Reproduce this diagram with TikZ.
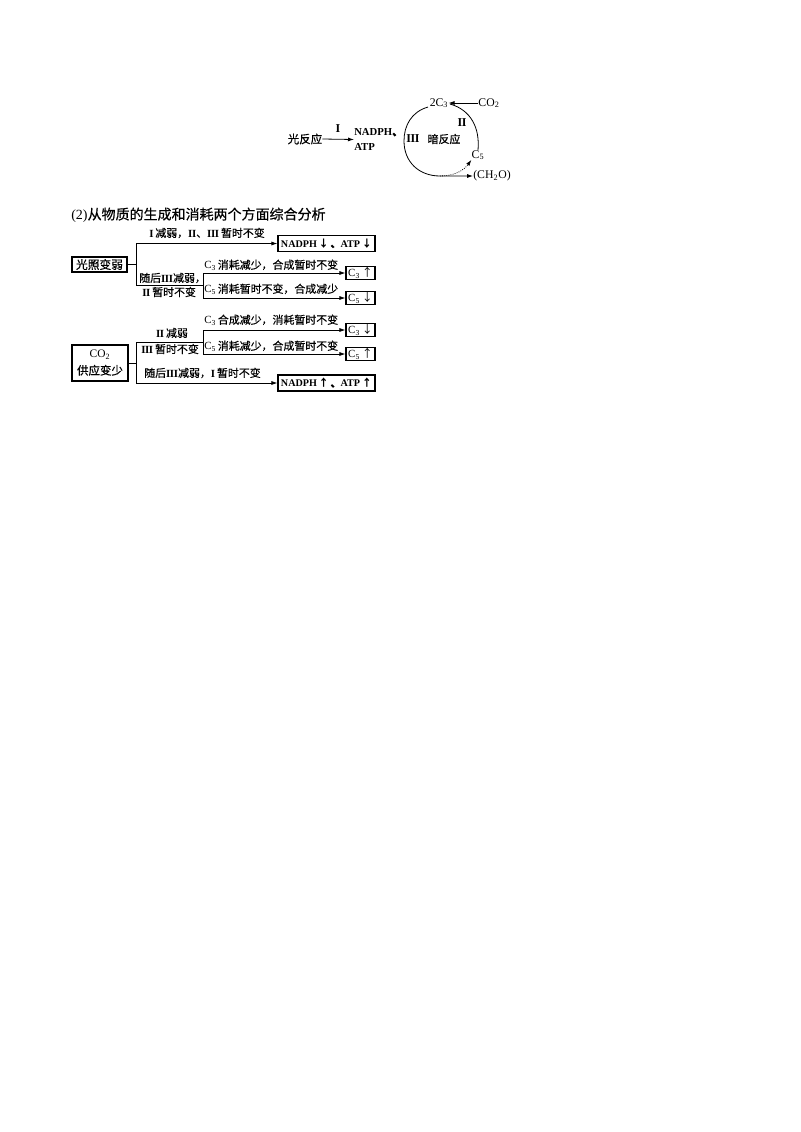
\documentclass[tikz,border=0pt]{standalone}
\usepackage{fontspec}
\setmainfont{Liberation Serif}
\newfontfamily\cjk[FakeBold=0.5]{Noto Sans CJK SC}
\newfontfamily\cjkarrow{Noto Sans CJK SC}
\usetikzlibrary{arrows.meta}
\newcommand{\zh}[1]{{\cjk #1}}
\newcommand{\ar}[1]{{\cjkarrow #1}}
\newcommand{\RI}{{\bfseries I}}
\newcommand{\RII}{{\bfseries I\kern-0.3pt I}}
\newcommand{\RIII}{{\bfseries I\kern-0.3pt I\kern-0.3pt I}}
\begin{document}
\begin{tikzpicture}[x=0.75pt,y=-0.75pt,
  lab/.style={inner sep=0pt, font=\fontsize{8.2}{9.5}\selectfont},
  toplab/.style={lab, font=\fontsize{8.8}{10}\selectfont},
  bx/.style={draw, line width=0.8pt, inner sep=0pt, font=\fontsize{8.2}{9.5}\selectfont},
  cbox/.style={bx, minimum width=21.75pt, minimum height=10pt},
  nbox/.style={bx, minimum width=72.75pt, minimum height=11.5pt, font=\fontsize{7.6}{9.5}\selectfont\bfseries},
  ln/.style={line width=0.6pt},
  arr/.style={ln, -{Latex[length=4.5pt,width=3pt]}},
]
\useasboundingbox (0,0) rectangle (800,1132);

% ---------- top: light and dark reactions ----------
\node[lab, font=\fontsize{8.6}{10}\selectfont] (gf) at (305,139) {\zh{光反应}};
\node[lab, anchor=west, align=left, font=\fontsize{8}{11.25}\selectfont\bfseries] (na) at (354,139.5) {NADPH\zh{、}\\ATP};
\draw[arr] (gf.east) -- (na.west);
\node[lab, font=\fontsize{9}{10}\selectfont] (r1) at (338,129) {\RI};

\node[toplab] (c2) at (439,103) {2C\textsubscript{3}};
\node[toplab] (co2) at (489,103) {CO\textsubscript{2}};
\draw[arr] (co2.west) -- (c2.east);
\node[toplab] (c5) at (478,155) {C\textsubscript{5}};
\node[toplab] (ch) at (492,176) {(CH\textsubscript{2}O)};
\node[lab, font=\fontsize{9}{10}\selectfont] (r2) at (462,123) {\RII};
\node[lab, font=\fontsize{9}{10}\selectfont] (r3) at (413,139) {\RIII};
\node[lab] (an) at (444,139) {\zh{暗反应}};

\coordinate (aL) at (428,107);
\coordinate (aB) at (440,176);
\coordinate (aR) at (450,104);
\draw[arr] (aL) .. controls (411,112) and (404,126) .. (404,141)
  .. controls (404,162) and (419,176) .. (aB) -- (aB -| ch.west);
\draw[arr, densely dotted] (aB) .. controls (455,176) and (464,170) .. (c5.south west);
\draw[ln] (c5.north) .. controls (480,128) and (471,110) .. (aR);

% ---------- heading ----------
\node[lab, anchor=west, font=\fontsize{10.5}{12}\selectfont] (h) at (71,215) {(2)\zh{从物质的生成和消耗两个方面综合分析}};

% ---------- flowchart 1: light weakens ----------
\node[bx, minimum width=41.25pt, minimum height=11.25pt, font=\fontsize{8.8}{10}\selectfont] (b1) at (99.5,264.5) {\zh{光照变弱}};
\coordinate (p1t) at (136,243.5);
\coordinate (p1b) at (136,285);
\coordinate (q1) at (203,285);
\coordinate (q1a) at (203,273);
\coordinate (q1b) at (203,298);
\node[nbox] (n1) at (326.5,243.5) {NADPH\,\ar{↓}\,\zh{、}ATP\,\ar{↓}};
\node[cbox] (c3u) at (360.5,273) {C\textsubscript{3}\,\ar{↑}};
\node[cbox] (c5d) at (360.5,298) {C\textsubscript{5}\,\ar{↓}};
\draw[ln] (b1.east) -- (b1.east -| p1t);
\draw[ln] (p1t) -- (p1b) -- (q1);
\draw[ln] (q1a) -- (q1b);
\draw[arr] (p1t) -- (n1.west);
\draw[arr] (q1a) -- (c3u.west);
\draw[arr] (q1b) -- (c5d.west);
\node[lab] (l1) at (207,233) {\RI\,\zh{减弱，}\RII\zh{、}\RIII\,\zh{暂时不变}};
\node[lab, anchor=west] (l2) at (139,278) {\zh{随后}\RIII\zh{减弱，}};
\node[lab, anchor=west] (l3) at (142,292) {\RII\,\zh{暂时不变}};
\node[lab, anchor=west] (l4) at (204,265) {C\textsubscript{3}\,\zh{消耗减少，合成暂时不变}};
\node[lab, anchor=west] (l5) at (204,289) {C\textsubscript{5}\,\zh{消耗暂时不变，合成减少}};

% ---------- flowchart 2: CO2 decreases ----------
\node[bx, minimum width=42pt, minimum height=27pt, align=center, font=\fontsize{8.6}{12.5}\selectfont] (b2) at (100,363) {CO\textsubscript{2}\\\zh{供应变少}};
\coordinate (p2t) at (136,342);
\coordinate (p2b) at (136,383);
\coordinate (q2) at (203,342);
\coordinate (q2a) at (203,330);
\coordinate (q2b) at (203,354);
\node[cbox] (c3d) at (360.5,330) {C\textsubscript{3}\,\ar{↓}};
\node[cbox] (c5u) at (360.5,354) {C\textsubscript{5}\,\ar{↑}};
\node[nbox, minimum height=12pt] (n2) at (326.5,383) {NADPH\,\ar{↑}\,\zh{、}ATP\,\ar{↑}};
\draw[ln] (b2.east) -- (b2.east -| p2t);
\draw[ln] (p2t) -- (p2b);
\draw[ln] (p2t) -- (q2);
\draw[ln] (q2a) -- (q2b);
\draw[arr] (q2a) -- (c3d.west);
\draw[arr] (q2b) -- (c5u.west);
\draw[arr] (p2b) -- (n2.west);
\node[lab] (l6) at (172,333) {\RII\,\zh{减弱}};
\node[lab, anchor=west] (l7) at (141,349) {\RIII\,\zh{暂时不变}};
\node[lab, anchor=west] (l8) at (204,320) {C\textsubscript{3}\,\zh{合成减少，消耗暂时不变}};
\node[lab, anchor=west] (l9) at (204,346) {C\textsubscript{5}\,\zh{消耗减少，合成暂时不变}};
\node[lab, anchor=west] (l10) at (144,373) {\zh{随后}\RIII\zh{减弱，}\RI\,\zh{暂时不变}};
\end{tikzpicture}
\end{document}
